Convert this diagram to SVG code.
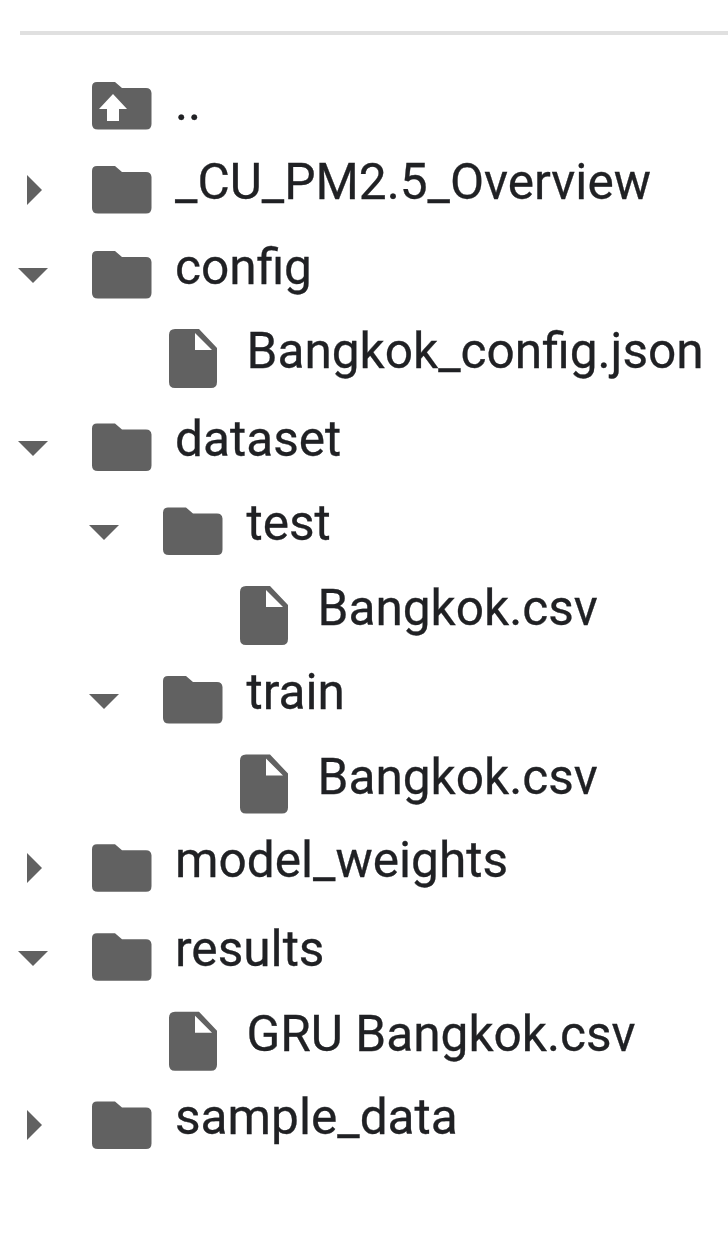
<svg xmlns="http://www.w3.org/2000/svg" width="728" height="1258" viewBox="0 0 728 1258">
<style>
text{font-family:Roboto,"Liberation Sans",sans-serif;font-size:49.6px;fill:#202124;stroke:#202124;stroke-width:.3px}
.i{fill:#616161}
</style>
<defs>
<path id="folder" class="i" d="M5 0H23L30 6H54Q59 6 59.500 11V42Q59.500 47.500 54 47.500H6Q0 47.500 0 42V5Q0 0 5 0Z"/>
<path id="file" class="i" d="M6 0H30L48 19V53Q48 59 42 59H6Q0 59 0 53V6Q0 0 6 0ZM26 4V21H43Z" fill-rule="evenodd"/>
<path id="right" class="i" d="M0 0L15 15L0 30Z"/>
<path id="down" class="i" d="M0 0H30L15 15Z"/>
</defs>
<rect width="728" height="1258" fill="#fff"/>
<rect x="20" y="31" width="708" height="4" fill="#e0e0e0"/>
<g id="up"><use href="#folder" x="92" y="82"/><path fill="#fff" d="M113 94L127 109H119V121H107V109H99Z"/><text x="175" y="120">..</text></g>
<g id="overview"><use href="#right" x="27" y="175"/><use href="#folder" x="92" y="166"/><text x="175" y="199">_CU_PM2.5_Overview</text></g>
<g id="config"><use href="#down" x="18" y="268"/><use href="#folder" x="92" y="251"/><text x="175" y="283.500">config</text></g>
<g id="config-json"><use href="#file" x="169" y="329"/><text x="246.500" y="368">Bangkok_config.json</text></g>
<g id="dataset"><use href="#down" x="18" y="441"/><use href="#folder" x="92" y="423.500"/><text x="175" y="456">dataset</text></g>
<g id="test"><use href="#down" x="89" y="525"/><use href="#folder" x="163" y="507.500"/><text x="246.500" y="540">test</text></g>
<g id="test-csv"><use href="#file" x="240" y="586"/><text x="317.500" y="625">Bangkok.csv</text></g>
<g id="train"><use href="#down" x="89" y="694"/><use href="#folder" x="163" y="676"/><text x="246.500" y="709">train</text></g>
<g id="train-csv"><use href="#file" x="240" y="754.500"/><text x="317.500" y="793.500">Bangkok.csv</text></g>
<g id="model-weights"><use href="#right" x="27" y="853"/><use href="#folder" x="92" y="844.300"/><text x="175" y="877">model_weights</text></g>
<g id="results"><use href="#down" x="18" y="951"/><use href="#folder" x="92" y="933.300"/><text x="175" y="966">results</text></g>
<g id="results-csv"><use href="#file" x="169" y="1011.700"/><text x="246.500" y="1050.500">GRU Bangkok.csv</text></g>
<g id="sample-data"><use href="#right" x="27" y="1110"/><use href="#folder" x="92" y="1101.500"/><text x="175" y="1134">sample_data</text></g>
</svg>
